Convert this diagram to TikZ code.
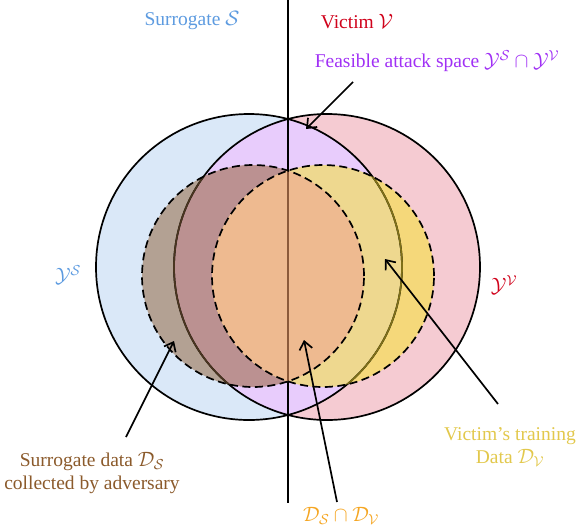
\documentclass[tikz,border=0pt]{standalone}
\usepackage{fontspec}
\setmainfont{Liberation Serif}
\usetikzlibrary{arrows.meta}
\definecolor{blueF}{HTML}{DAE8F8}
\definecolor{pinkF}{HTML}{F5CBD2}
\definecolor{purpleF}{HTML}{E8CCFC}
\definecolor{brownB}{HTML}{B3A193}
\definecolor{brownP}{HTML}{BB9191}
\definecolor{yellowP}{HTML}{F5D87A}
\definecolor{yellowL}{HTML}{EED88F}
\definecolor{orangeF}{HTML}{EEBA90}
\definecolor{darkbrownL}{HTML}{4A3520}
\definecolor{oliveL}{HTML}{7F7018}
\definecolor{brownL}{HTML}{8B5A3A}
\definecolor{blueT}{HTML}{5D9BE0}
\definecolor{redT}{HTML}{D0021B}
\definecolor{purpleT}{HTML}{A030F5}
\definecolor{brownT}{HTML}{8B5A2B}
\definecolor{yellowT}{HTML}{E2C84C}
\definecolor{orangeT}{HTML}{F5A623}
\begin{document}
\begin{tikzpicture}[x=1pt,y=-1pt,
  outline/.style={line width=1.7pt},
  dashcirc/.style={line width=1.7pt, dash pattern=on 8pt off 4.5pt},
  arr/.style={line width=1.7pt, -{Straight Barb[length=8pt,width=13pt]}},
  lbl/.style={font=\fontsize{19.5}{23}\selectfont, inner sep=0pt, align=center}]
\useasboundingbox (0,0) rectangle (578,528);
\coordinate (cS) at (249,267);
\coordinate (cV) at (327,267);
\coordinate (dS) at (253,276);
\coordinate (dV) at (323,276);
\coordinate (vtop) at (288,0);
\coordinate (vbot) at (288,503);
% big circles
\fill[blueF] (cS) circle (153pt);
\fill[pinkF] (cV) circle (153pt);
\begin{scope}
  \clip (cV) circle (153pt);
  \fill[purpleF] (cS) circle (153pt);
\end{scope}
% data sets
\fill[brownB] (dS) circle (111pt);
\begin{scope}
  \clip (cV) circle (153pt);
  \fill[brownP] (dS) circle (111pt);
\end{scope}
\fill[yellowP] (dV) circle (111pt);
\begin{scope}
  \clip (cS) circle (153pt);
  \fill[yellowL] (dV) circle (111pt);
\end{scope}
\begin{scope}
  \clip (dS) circle (111pt);
  \fill[orangeF] (dV) circle (111pt);
\end{scope}
% outlines
\draw[outline] (cS) circle (153pt);
\draw[outline] (cV) circle (153pt);
\draw[outline] (vtop) -- (vbot);
\begin{scope}
  \clip (dS) circle (111pt);
  \draw[outline, darkbrownL] (cV) circle (153pt);
\end{scope}
\begin{scope}
  \clip (dV) circle (111pt);
  \draw[outline, oliveL] (cS) circle (153pt);
\end{scope}
\begin{scope}
  \clip (dS) circle (111pt);
  \clip (dV) circle (111pt);
  \draw[outline, brownL] (vtop) -- (vbot);
\end{scope}
\draw[dashcirc] (dS) circle (111pt);
\draw[dashcirc] (dV) circle (111pt);
% labels
\node[lbl, text=blueT] (surr) at (192,21) {Surrogate $\mathcal{S}$};
\node[lbl, text=redT] (vict) at (357,22) {Victim $\mathcal{V}$};
\node[lbl, text=purpleT] (feas) at (437,61) {Feasible attack space $\mathcal{Y}^{\mathcal{S}}\cap\mathcal{Y}^{\mathcal{V}}$};
\node[lbl, text=blueT] (ys) at (68,275) {$\mathcal{Y}^{\mathcal{S}}$};
\node[lbl, text=redT] (yv) at (504,285) {$\mathcal{Y}^{\mathcal{V}}$};
\node[lbl, text=brownT] (sdata) at (92,473) {Surrogate data $\mathcal{D}_{\mathcal{S}}$\\collected by adversary};
\node[lbl, text=yellowT] (vdata) at (510,447) {Victim's training\\Data $\mathcal{D}_{\mathcal{V}}$};
\node[lbl, text=orangeT] (inter) at (341,516) {$\mathcal{D}_{\mathcal{S}}\cap\mathcal{D}_{\mathcal{V}}$};
% arrows
\coordinate (a1s) at (353,82);  \coordinate (a1e) at (306,129);
\coordinate (a2s) at (126,437); \coordinate (a2e) at (174,341);
\coordinate (a3s) at (498,404); \coordinate (a3e) at (385,259);
\coordinate (a4s) at (337,502); \coordinate (a4e) at (304,340);
\draw[arr] (a1s) -- (a1e);
\draw[arr] (a2s) -- (a2e);
\draw[arr] (a3s) -- (a3e);
\draw[arr] (a4s) -- (a4e);
\end{tikzpicture}
\end{document}
